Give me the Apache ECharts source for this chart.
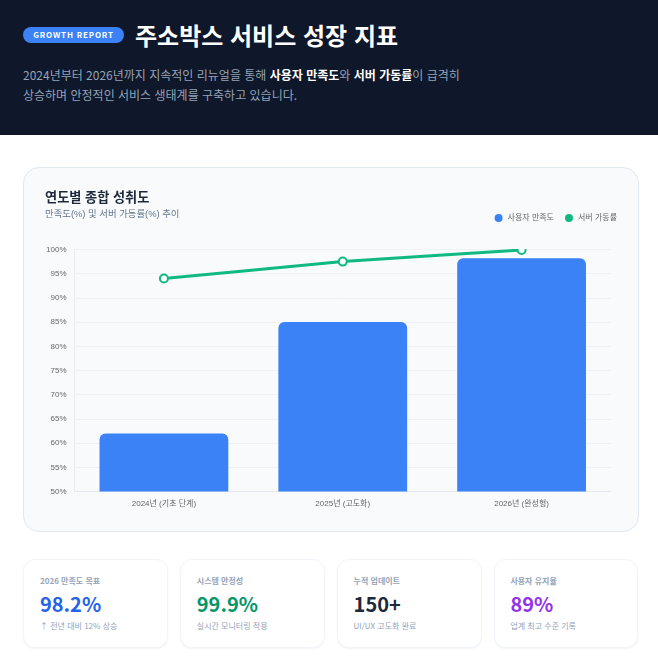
<!DOCTYPE html>
<html lang="ko"><head><meta charset="utf-8">
<script src="https://cdn.jsdelivr.net/npm/echarts@6/dist/echarts.min.js"></script>
<style>
html,body{margin:0;padding:0;width:658px;height:662px;overflow:hidden;background:#fff;font-family:"Noto Sans CJK KR","Noto Sans",sans-serif}
*{box-sizing:border-box}
.abs{position:absolute;white-space:nowrap}
#head{position:absolute;left:0;top:0;width:658px;height:135px;background:#0f172a}
#badge{left:23px;top:27px;width:101px;height:16px;line-height:16px;border-radius:8px;background:#3b82f6;color:#fff;font-size:8px;font-weight:700;letter-spacing:.8px;text-align:center}
#title{left:135px;top:18px;line-height:34px;font-size:24px;font-weight:700;color:#fff}
#desc{left:23px;top:65px;font-size:12px;line-height:20px;color:#94a3b8}
#desc b{color:#fff;font-weight:700}
#panel{position:absolute;left:23.3px;top:167.3px;width:615.3px;height:364.4px;background:#f8fafc;border:1px solid #e2e8f0;border-radius:16px}
#chart{position:absolute;left:24px;top:168px;width:614px;height:363px}
#ct{left:45px;top:188px;font-size:13.2px;line-height:20px;font-weight:700;color:#1e293b;font-family:"Liberation Sans","Noto Sans CJK KR",sans-serif}
#cs{left:45px;top:206px;font-size:9.4px;line-height:15px;color:#64748b;font-family:"Liberation Sans","Noto Sans CJK KR",sans-serif}
.kpi{position:absolute;top:559.3px;width:144.8px;height:89px;background:#fff;border:1px solid #f1f5f9;border-radius:12px;box-shadow:0 1px 2px rgba(15,23,42,.05)}
.kpi .l{position:absolute;left:15.7px;top:15px;font-size:8px;line-height:12px;font-weight:700;color:#94a3b8;white-space:nowrap}
.kpi .v{position:absolute;left:15.7px;top:29px;font-size:20px;line-height:30px;font-weight:700;white-space:nowrap}
.kpi .n{position:absolute;left:15.7px;top:59.5px;font-size:8px;line-height:12px;color:#94a3b8;white-space:nowrap}
</style></head><body>
<div id="head"></div>
<div class="abs" id="badge">GROWTH REPORT</div>
<div class="abs" id="title">주소박스 서비스 성장 지표</div>
<div class="abs" id="desc">2024년부터 2026년까지 지속적인 리뉴얼을 통해 <b>사용자 만족도</b>와 <b>서버 가동률</b>이 급격히<br>상승하며 안정적인 서비스 생태계를 구축하고 있습니다.</div>
<div id="panel"></div>
<div id="chart"></div>
<div class="abs" id="ct">연도별 종합 성취도</div>
<div class="abs" id="cs">만족도(%) 및 서버 가동률(%) 추이</div>
<div class="kpi" style="left:23.3px"><div class="l">2026 만족도 목표</div><div class="v" style="color:#2563eb">98.2%</div><div class="n">↑ 전년 대비 12% 상승</div></div>
<div class="kpi" style="left:180.1px"><div class="l">시스템 안정성</div><div class="v" style="color:#059669">99.9%</div><div class="n">실시간 모니터링 적용</div></div>
<div class="kpi" style="left:336.9px"><div class="l">누적 업데이트</div><div class="v" style="color:#1e293b">150+</div><div class="n">UI/UX 고도화 완료</div></div>
<div class="kpi" style="left:493.7px"><div class="l">사용자 유지율</div><div class="v" style="color:#9333ea">89%</div><div class="n">업계 최고 수준 기록</div></div>
<script>
const categories = ["2024년 (기초 단계)", "2025년 (고도화)", "2026년 (완성형)"];
const satisfaction = [62, 85, 98.2];
const uptime = [94, 97.5, 99.9];
const chartFont = '"Liberation Sans","Noto Sans CJK KR",sans-serif';
const chart = echarts.init(document.getElementById('chart'), null, {renderer:'canvas'});
chart.setOption({
  animation:false,
  textStyle:{fontFamily:chartFont},
  legend:{
    top:41,right:16,icon:'circle',itemWidth:8,itemHeight:8,itemGap:11,
    textStyle:{fontSize:8,color:'#666',fontFamily:chartFont},
    data:[{name:'사용자 만족도',itemStyle:{color:'#3b82f6'}},{name:'서버 가동률',itemStyle:{color:'#10b981',borderWidth:0}}]
  },
  grid:{left:50.5,right:27,top:81.5,bottom:39.5},
  xAxis:{
    type:'category',data:categories,
    axisLine:{show:true,lineStyle:{color:'#e2e8f0',width:1}},
    axisTick:{show:false},splitLine:{show:false},
    axisLabel:{fontSize:8,color:'#666',margin:8}
  },
  yAxis:{
    type:'value',min:50,max:100,interval:5,
    axisLabel:{fontSize:8,color:'#666',margin:8,formatter:'{value}%'},
    axisLine:{show:true,lineStyle:{color:'#e8edf3',width:1}},
    axisTick:{show:false},
    splitLine:{show:true,lineStyle:{color:'#eef2f7',width:1}}
  },
  graphic:[{type:'rect',z:100,silent:true,shape:{x:60,y:70,width:530,height:11},style:{fill:'#f8fafc'}}],
  series:[
    {name:'서버 가동률',type:'line',data:uptime,z:5,smooth:0.1,clip:true,
     symbol:'circle',symbolSize:8,showSymbol:true,
     lineStyle:{color:'#10b981',width:3},
     itemStyle:{color:'#fff',borderColor:'#10b981',borderWidth:2}},
    {name:'사용자 만족도',type:'bar',data:satisfaction,z:2,barWidth:'72%',
     itemStyle:{color:'#3b82f6',borderRadius:[6,6,0,0]}}
  ]
});
</script>
</body></html>
